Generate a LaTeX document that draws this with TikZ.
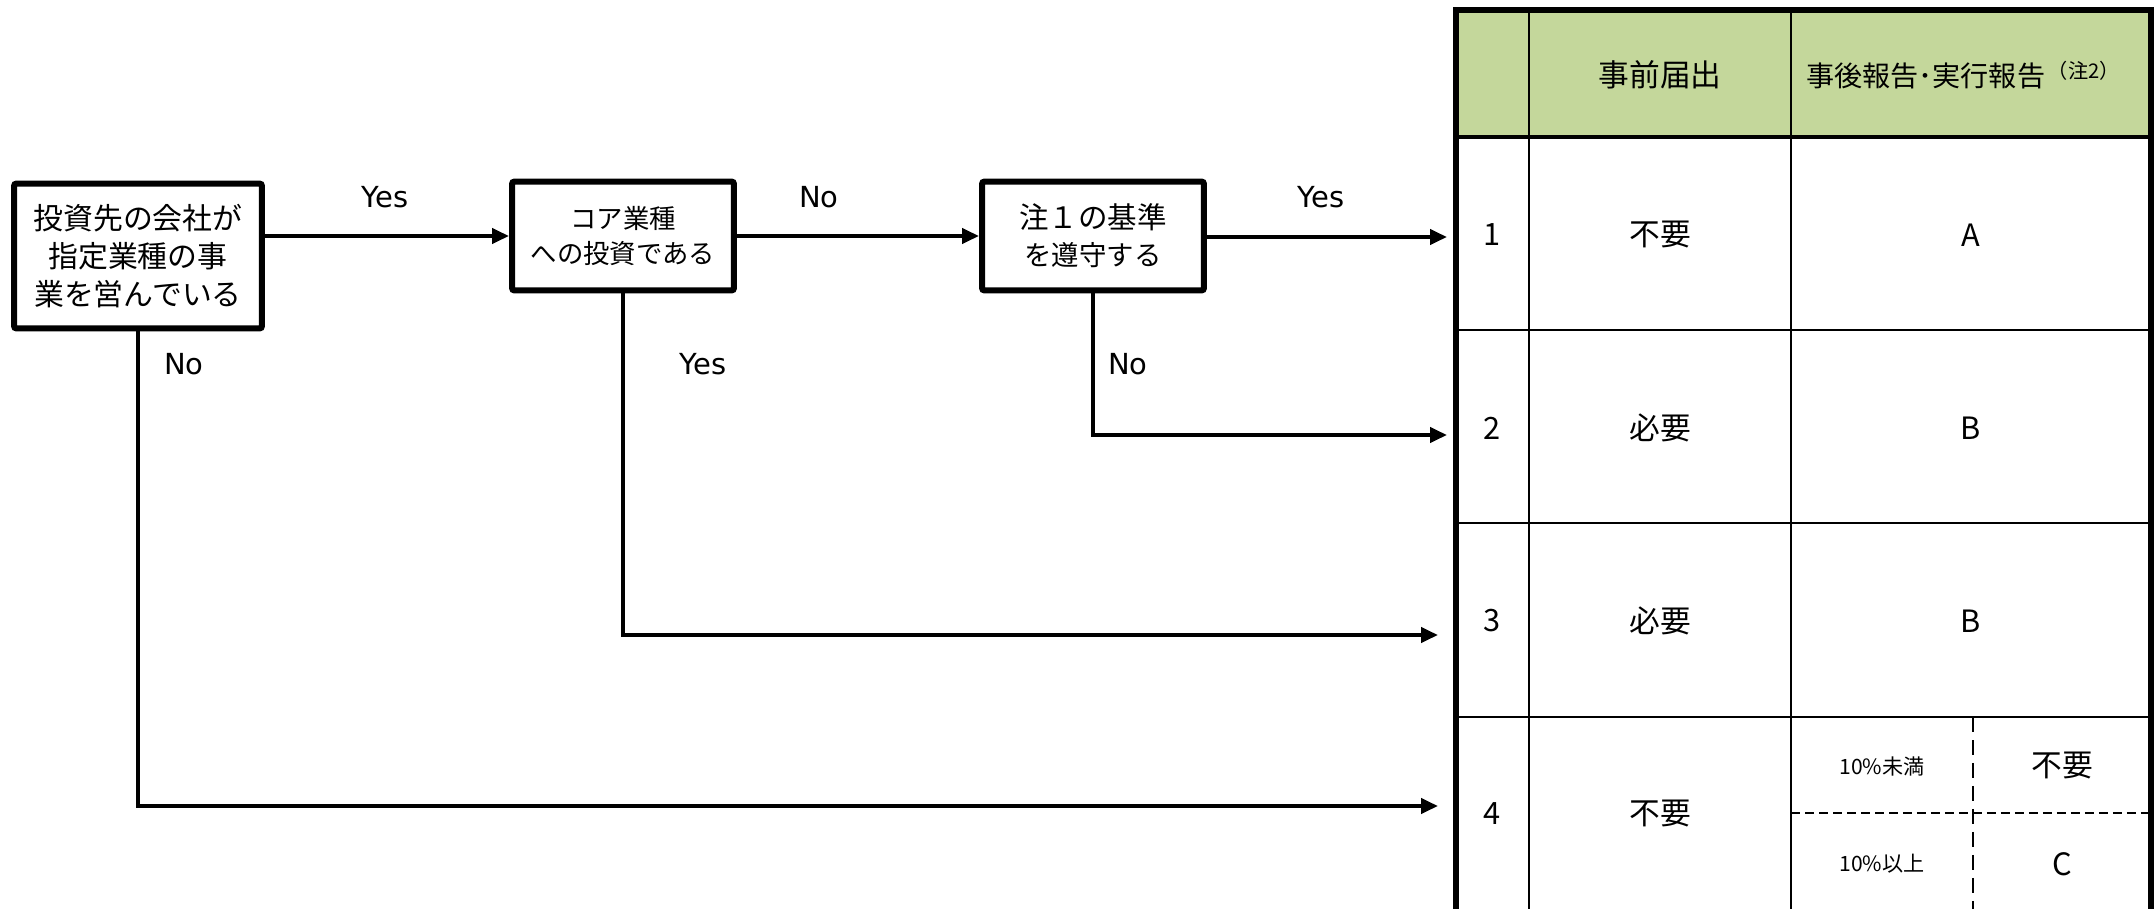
\documentclass[tikz,border=0pt]{standalone}
\usepackage{fontspec}
\usepackage{graphicx}
\setmainfont{Noto Sans CJK JP}
\newfontfamily\latinfont{DejaVu Sans}
\usetikzlibrary{arrows.meta}
\definecolor{hdrgreen}{RGB}{196,215,155}
\begin{document}
\begin{tikzpicture}[x=0.02cm,y=-0.02cm,
  box/.style={draw, line width=0.12cm, rounded corners=0.05cm, align=center, inner sep=0pt},
  flow/.style={line width=0.08cm, -{Triangle[length=0.34cm,width=0.3cm]}},
  lbl/.style={font=\latinfont\fontsize{16.5}{20}\selectfont, inner sep=0pt},
  cell/.style={font=\fontsize{17.5}{21}\selectfont, inner sep=0pt},
  small/.style={font=\fontsize{12}{14}\selectfont, inner sep=0pt},
  thinline/.style={line width=0.04cm},
  hdrline/.style={line width=0.065cm},
  outer/.style={line width=0.13cm},
  hdash/.style={line width=0.055cm, dash pattern=on 0.18cm off 0.1cm},
  vdash/.style={line width=0.045cm, dash pattern=on 0.3cm off 0.16cm},
]
\useasboundingbox (0,0) rectangle (2154,909);

% ---- table ----
\fill[hdrgreen] (1456,10) rectangle (2151,137);
\draw[thinline] (1456,330) -- (2151,330);
\draw[thinline] (1456,523) -- (2151,523);
\draw[thinline] (1456,717) -- (2151,717);
\draw[thinline] (1529,10) -- (1529,909);
\draw[thinline] (1791,10) -- (1791,909);
\draw[hdrline] (1456,137) -- (2151,137);
\draw[hdash] (1791,813) -- (2151,813);
\draw[vdash] (1973,717) -- (1973,909);
\draw[outer] (1456,909) -- (1456,10) -- (2151,10) -- (2151,909);

\node[cell] (h1) at (1660,75) {事前届出};
\node[cell, font=\fontsize{16}{20}\selectfont] (h2) at (1963,75) {事後報告･実行報告\hspace{0.1em}\raisebox{4.5pt}{\fontsize{11.5}{12}\selectfont （注2）}};

\node[cell] (n1) at (1492,235) {1};
\node[cell] (n2) at (1492,428) {2};
\node[cell] (n3) at (1492,621) {3};
\node[cell] (n4) at (1492,814) {4};

\node[cell] (p1) at (1660,235) {不要};
\node[cell] (p2) at (1660,428) {必要};
\node[cell] (p3) at (1660,621) {必要};
\node[cell] (p4) at (1660,814) {不要};

\node[cell] (r1) at (1971,235) {A};
\node[cell] (r2) at (1971,428) {B};
\node[cell] (r3) at (1971,621) {B};
\node[small] (s1) at (1882,766) {10\%未満};
\node[small] (s2) at (1882,864) {10\%以上};
\node[cell] (r4a) at (2062,766) {不要};
\node[cell] (r4b) at (2062,864) {C};

% ---- flow boxes ----
\node[box, minimum width=4.96cm, minimum height=2.9cm,
      font=\fontsize{17}{21.5}\selectfont] (b1) at (138,256)
      {投資先の会社が\\指定業種の事\\業を営んでいる};
\node[box, minimum width=4.44cm, minimum height=2.18cm,
      font=\fontsize{15}{19.4}\selectfont] (b2) at (623,236)
      {コア業種\\への投資である};
\node[box, minimum width=4.44cm, minimum height=2.18cm,
      font=\fontsize{15.6}{21}\selectfont] (b3) at (1093,236)
      {{\fontsize{16.8}{21}\selectfont 注１の基準}\\を遵守する};

\coordinate (e1) at (1447,237);
\coordinate (e2) at (1447,435);
\coordinate (e3) at (1438,635);
\coordinate (e4) at (1438,806);

\draw[flow] (b1.east |- b2.west) -- (b2.west);
\draw[flow] (b2.east) -- (b3.west);
\draw[flow] (b3.east |- e1) -- (e1);
\draw[flow] (b3.south) |- (e2);
\draw[flow] (b2.south) |- (e3);
\draw[flow] (b1.south) |- (e4);

\node[lbl] (y1) at (385,197) {Yes};
\node[lbl] (no1) at (819,197) {No};
\node[lbl] (y2) at (1321,197) {Yes};
\node[lbl] (no2) at (184,364) {No};
\node[lbl] (y3) at (703,364) {Yes};
\node[lbl] (no3) at (1128,364) {No};
\end{tikzpicture}
\end{document}
